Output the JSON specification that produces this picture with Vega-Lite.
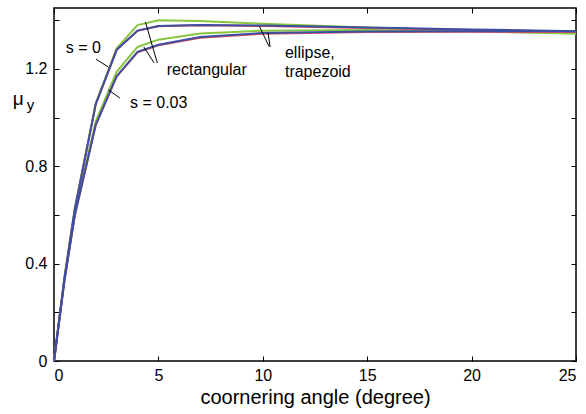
{
  "$schema": "https://vega.github.io/schema/vega-lite/v6.json",
  "width": 522,
  "height": 353,
  "autosize": "none",
  "padding": {"left": 54, "top": 8, "right": 10, "bottom": 53},
  "config": {
    "view": {"stroke": "black", "strokeWidth": 1.5},
    "font": "Liberation Sans",
    "axis": {
      "grid": false,
      "domain": false,
      "tickColor": "black",
      "tickSize": -5,
      "labelColor": "black",
      "titleColor": "black",
      "labelFont": "Liberation Sans",
      "titleFont": "Liberation Sans",
      "labelFontSize": 16,
      "titleFontSize": 20,
      "titleFontWeight": "normal"
    }
  },
  "datasets": {
    "curves": [
      {"x": 0, "y": 0, "shape": "rectangular", "s": "0"},
      {"x": 0.5, "y": 0.345, "shape": "rectangular", "s": "0"},
      {"x": 1, "y": 0.63, "shape": "rectangular", "s": "0"},
      {"x": 2, "y": 1.06, "shape": "rectangular", "s": "0"},
      {"x": 3, "y": 1.285, "shape": "rectangular", "s": "0"},
      {"x": 4, "y": 1.38, "shape": "rectangular", "s": "0"},
      {"x": 5, "y": 1.4, "shape": "rectangular", "s": "0"},
      {"x": 7, "y": 1.397, "shape": "rectangular", "s": "0"},
      {"x": 10, "y": 1.385, "shape": "rectangular", "s": "0"},
      {"x": 15, "y": 1.37, "shape": "rectangular", "s": "0"},
      {"x": 20, "y": 1.357, "shape": "rectangular", "s": "0"},
      {"x": 25, "y": 1.345, "shape": "rectangular", "s": "0"},
      {"x": 0, "y": 0, "shape": "rectangular", "s": "0.03"},
      {"x": 0.5, "y": 0.33, "shape": "rectangular", "s": "0.03"},
      {"x": 1, "y": 0.61, "shape": "rectangular", "s": "0.03"},
      {"x": 2, "y": 0.985, "shape": "rectangular", "s": "0.03"},
      {"x": 3, "y": 1.188, "shape": "rectangular", "s": "0.03"},
      {"x": 4, "y": 1.29, "shape": "rectangular", "s": "0.03"},
      {"x": 5, "y": 1.32, "shape": "rectangular", "s": "0.03"},
      {"x": 7, "y": 1.345, "shape": "rectangular", "s": "0.03"},
      {"x": 10, "y": 1.357, "shape": "rectangular", "s": "0.03"},
      {"x": 15, "y": 1.36, "shape": "rectangular", "s": "0.03"},
      {"x": 20, "y": 1.354, "shape": "rectangular", "s": "0.03"},
      {"x": 25, "y": 1.345, "shape": "rectangular", "s": "0.03"},
      {"x": 0, "y": 0, "shape": "ellipse", "s": "0"},
      {"x": 0.5, "y": 0.34, "shape": "ellipse", "s": "0"},
      {"x": 1, "y": 0.625, "shape": "ellipse", "s": "0"},
      {"x": 2, "y": 1.055, "shape": "ellipse", "s": "0"},
      {"x": 3, "y": 1.278, "shape": "ellipse", "s": "0"},
      {"x": 4, "y": 1.356, "shape": "ellipse", "s": "0"},
      {"x": 5, "y": 1.375, "shape": "ellipse", "s": "0"},
      {"x": 7, "y": 1.379, "shape": "ellipse", "s": "0"},
      {"x": 10, "y": 1.376, "shape": "ellipse", "s": "0"},
      {"x": 15, "y": 1.368, "shape": "ellipse", "s": "0"},
      {"x": 20, "y": 1.36, "shape": "ellipse", "s": "0"},
      {"x": 25, "y": 1.352, "shape": "ellipse", "s": "0"},
      {"x": 0, "y": 0, "shape": "ellipse", "s": "0.03"},
      {"x": 0.5, "y": 0.33, "shape": "ellipse", "s": "0.03"},
      {"x": 1, "y": 0.6, "shape": "ellipse", "s": "0.03"},
      {"x": 2, "y": 0.97, "shape": "ellipse", "s": "0.03"},
      {"x": 3, "y": 1.168, "shape": "ellipse", "s": "0.03"},
      {"x": 4, "y": 1.268, "shape": "ellipse", "s": "0.03"},
      {"x": 5, "y": 1.297, "shape": "ellipse", "s": "0.03"},
      {"x": 7, "y": 1.328, "shape": "ellipse", "s": "0.03"},
      {"x": 10, "y": 1.344, "shape": "ellipse", "s": "0.03"},
      {"x": 15, "y": 1.351, "shape": "ellipse", "s": "0.03"},
      {"x": 20, "y": 1.352, "shape": "ellipse", "s": "0.03"},
      {"x": 25, "y": 1.351, "shape": "ellipse", "s": "0.03"},
      {"x": 0, "y": 0, "shape": "trapezoid", "s": "0"},
      {"x": 0.5, "y": 0.34, "shape": "trapezoid", "s": "0"},
      {"x": 1, "y": 0.625, "shape": "trapezoid", "s": "0"},
      {"x": 2, "y": 1.055, "shape": "trapezoid", "s": "0"},
      {"x": 3, "y": 1.278, "shape": "trapezoid", "s": "0"},
      {"x": 4, "y": 1.357, "shape": "trapezoid", "s": "0"},
      {"x": 5, "y": 1.376, "shape": "trapezoid", "s": "0"},
      {"x": 7, "y": 1.38, "shape": "trapezoid", "s": "0"},
      {"x": 10, "y": 1.378, "shape": "trapezoid", "s": "0"},
      {"x": 15, "y": 1.37, "shape": "trapezoid", "s": "0"},
      {"x": 20, "y": 1.362, "shape": "trapezoid", "s": "0"},
      {"x": 25, "y": 1.355, "shape": "trapezoid", "s": "0"},
      {"x": 0, "y": 0, "shape": "trapezoid", "s": "0.03"},
      {"x": 0.5, "y": 0.33, "shape": "trapezoid", "s": "0.03"},
      {"x": 1, "y": 0.6, "shape": "trapezoid", "s": "0.03"},
      {"x": 2, "y": 0.97, "shape": "trapezoid", "s": "0.03"},
      {"x": 3, "y": 1.17, "shape": "trapezoid", "s": "0.03"},
      {"x": 4, "y": 1.27, "shape": "trapezoid", "s": "0.03"},
      {"x": 5, "y": 1.299, "shape": "trapezoid", "s": "0.03"},
      {"x": 7, "y": 1.331, "shape": "trapezoid", "s": "0.03"},
      {"x": 10, "y": 1.347, "shape": "trapezoid", "s": "0.03"},
      {"x": 15, "y": 1.353, "shape": "trapezoid", "s": "0.03"},
      {"x": 20, "y": 1.355, "shape": "trapezoid", "s": "0.03"},
      {"x": 25, "y": 1.355, "shape": "trapezoid", "s": "0.03"}
    ],
    "leaders": [
      {"x": 2.01, "y": 1.24, "x2": 2.61, "y2": 1.207},
      {"x": 2.6, "y": 1.114, "x2": 3.16, "y2": 1.08},
      {"x": 4.38, "y": 1.392, "x2": 4.95, "y2": 1.224},
      {"x": 4.3, "y": 1.29, "x2": 4.8, "y2": 1.224},
      {"x": 9.84, "y": 1.374, "x2": 10.3, "y2": 1.292},
      {"x": 10.25, "y": 1.35, "x2": 10.35, "y2": 1.29}
    ],
    "labels": [
      {"x": 0.56, "y": 1.286, "text": "s = 0", "size": 16},
      {"x": 3.64, "y": 1.06, "text": "s = 0.03", "size": 16},
      {"x": 5.4, "y": 1.196, "text": "rectangular", "size": 16},
      {"x": 11.06, "y": 1.266, "text": "ellipse,", "size": 16},
      {"x": 11.06, "y": 1.188, "text": "trapezoid", "size": 16},
      {"x": -1.98, "y": 1.075, "text": "μ", "size": 19},
      {"x": -1.3, "y": 1.05, "text": "y", "size": 15}
    ]
  },
  "layer": [
    {
      "data": {"name": "curves"},
      "mark": {"type": "line", "strokeWidth": 2},
      "encoding": {
        "x": {
          "field": "x", "type": "quantitative",
          "scale": {"domain": [0, 25], "nice": false},
          "axis": {"orient": "bottom", "values": [0, 5, 10, 15, 20, 25], "labelPadding": 11, "title": "coornering angle (degree)", "titlePadding": 4}
        },
        "y": {
          "field": "y", "type": "quantitative",
          "scale": {"domain": [0, 1.45], "nice": false},
          "axis": {"orient": "left", "values": [0, 0.2, 0.4, 0.6, 0.8, 1.0, 1.2, 1.4], "labelPadding": 12, "labelExpr": "round(datum.value*10) % 4 == 0 ? format(datum.value, '~g') : ''", "title": null}
        },
        "color": {
          "field": "shape", "type": "nominal",
          "scale": {"domain": ["rectangular", "ellipse", "trapezoid"], "range": ["#88c540", "#e8505b", "#3b4fa3"]},
          "legend": null
        },
        "detail": {"field": "s"}
      }
    },
    {
      "data": {"name": "leaders"},
      "mark": {"type": "rule", "color": "black", "strokeWidth": 1},
      "encoding": {
        "x": {"field": "x", "type": "quantitative", "axis": {"orient": "top", "values": [0, 5, 10, 15, 20, 25], "labels": false, "title": null}},
        "y": {"field": "y", "type": "quantitative", "axis": {"orient": "right", "values": [0, 0.2, 0.4, 0.6, 0.8, 1.0, 1.2, 1.4], "labels": false, "title": null}},
        "x2": {"field": "x2"},
        "y2": {"field": "y2"}
      }
    },
    {
      "data": {"name": "labels"},
      "mark": {"type": "text", "align": "left", "baseline": "middle", "color": "black", "font": "Liberation Sans"},
      "encoding": {
        "x": {"field": "x", "type": "quantitative", "axis": null},
        "y": {"field": "y", "type": "quantitative", "axis": null},
        "text": {"field": "text"},
        "size": {"field": "size", "type": "quantitative", "scale": null}
      }
    }
  ],
  "resolve": {"axis": {"x": "independent", "y": "independent"}}
}
